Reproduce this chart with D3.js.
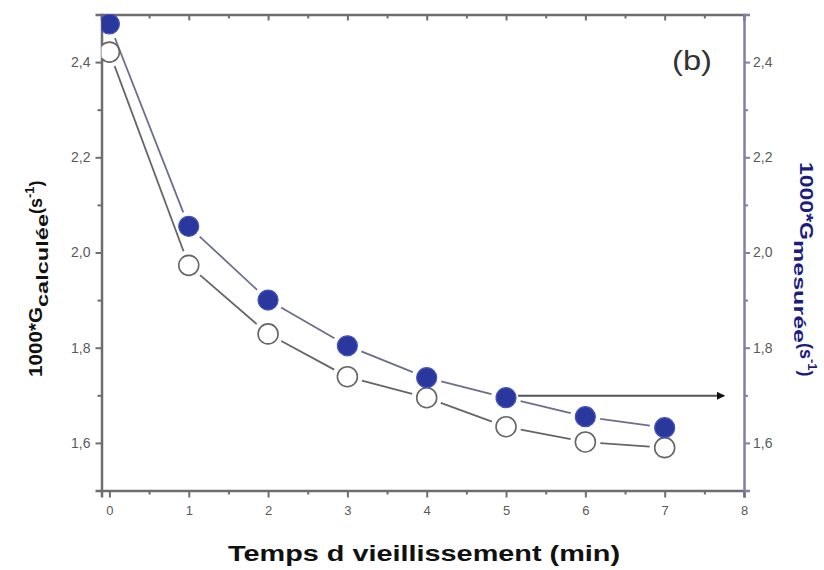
<!DOCTYPE html>
<html><head><meta charset="utf-8">
<script src="https://cdn.jsdelivr.net/npm/d3@7"></script>
<style>body{margin:0;background:#fff}svg{display:block}</style>
</head><body>
<svg id="c" width="824" height="570"></svg>
<script>
const times = [0,1,2,3,4,5,6,7];
const measured = [2.48,2.055,1.90,1.804,1.737,1.695,1.655,1.632];
const calculated = [2.421,1.973,1.829,1.739,1.695,1.634,1.602,1.59];
const xTicks = [0,1,2,3,4,5,6,7,8];
const yTicks = [1.6,1.8,2.0,2.2,2.4];
const arrowFromX = 5.15, arrowToX = 7.75, arrowY = 1.699;

const svg = d3.select('#c');
const x = d3.scaleLinear().domain([-0.1,8]).range([101.5,744]);
const y = d3.scaleLinear().domain([1.5,2.5]).range([490.5,14.5]);
const fmt = d => d3.format('.1f')(d).replace('.',',');
const font = "'Liberation Sans', Arial, sans-serif";

svg.append('defs').append('clipPath').attr('id','clip').append('rect')
  .attr('x',x.range()[0]).attr('y',y.range()[1]).attr('width',x.range()[1]-x.range()[0]).attr('height',y.range()[0]-y.range()[1]);

const grey = '#6e6e6e', blueGrey = '#8080a4';
function styleAxis(g, col){
  g.select('.domain').attr('stroke',col).attr('stroke-width',2.5);
  g.selectAll('.tick line').attr('stroke',col).attr('stroke-width',2);
  g.selectAll('.tick text').attr('fill','#5a5a5a').attr('font-family',font).attr('font-size',14);
}
function minor(g, col){ g.select('.domain').remove(); g.selectAll('line').attr('stroke',col).attr('stroke-width',2); }
const xMinor = d3.range(0.5,8,1);
const yMinor = [1.5,1.7,1.9,2.1,2.3];

// bottom
const gb = svg.append('g').attr('transform',`translate(0,${y.range()[0]})`)
  .call(d3.axisBottom(x).tickValues(xTicks).tickFormat(d3.format('d')).tickSize(7).tickPadding(8));
styleAxis(gb, grey);
gb.selectAll('.tick text').attr('font-size',13);
svg.append('g').attr('transform',`translate(0,${y.range()[0]})`)
  .call(d3.axisBottom(x).tickValues(xMinor).tickFormat('').tickSize(4)).call(g=>minor(g,grey));
// top (inward ticks)
const gt = svg.append('g').attr('transform',`translate(0,${y.range()[1]})`)
  .call(d3.axisBottom(x).tickValues(xTicks).tickFormat('').tickSize(6));
styleAxis(gt, grey);
svg.append('g').attr('transform',`translate(0,${y.range()[1]})`)
  .call(d3.axisBottom(x).tickValues(xMinor).tickFormat('').tickSize(4)).call(g=>minor(g,grey));
// left
const gl = svg.append('g').attr('transform',`translate(${x.range()[0]},0)`)
  .call(d3.axisLeft(y).tickValues(yTicks).tickFormat(fmt).tickSize(6).tickPadding(5));
styleAxis(gl, grey);
svg.append('g').attr('transform',`translate(${x.range()[0]},0)`)
  .call(d3.axisLeft(y).tickValues(yMinor).tickFormat('').tickSize(4)).call(g=>minor(g,grey));
// right
const gr = svg.append('g').attr('transform',`translate(${x.range()[1]},0)`)
  .call(d3.axisRight(y).tickValues(yTicks).tickFormat(fmt).tickSize(6).tickPadding(3));
styleAxis(gr, blueGrey);
svg.append('g').attr('transform',`translate(${x.range()[1]},0)`)
  .call(d3.axisRight(y).tickValues(yMinor).tickFormat('').tickSize(4)).call(g=>minor(g,blueGrey));

// series with gapped connecting lines
const plot = svg.append('g').attr('clip-path','url(#clip)');
function gappedSegments(vals, gap){
  const segs=[];
  for(let i=0;i<vals.length-1;i++){
    const x1=x(times[i]),y1=y(vals[i]),x2=x(times[i+1]),y2=y(vals[i+1]);
    const L=Math.hypot(x2-x1,y2-y1), ux=(x2-x1)/L, uy=(y2-y1)/L;
    segs.push([x1+ux*gap,y1+uy*gap,x2-ux*gap,y2-uy*gap]);
  }
  return segs;
}
const r = 10;
plot.selectAll('line.calc').data(gappedSegments(calculated, r+5)).join('line')
  .attr('x1',d=>d[0]).attr('y1',d=>d[1]).attr('x2',d=>d[2]).attr('y2',d=>d[3])
  .attr('stroke','#666').attr('stroke-width',1.8);
plot.selectAll('line.meas').data(gappedSegments(measured, r+5)).join('line')
  .attr('x1',d=>d[0]).attr('y1',d=>d[1]).attr('x2',d=>d[2]).attr('y2',d=>d[3])
  .attr('stroke','#6c6e8e').attr('stroke-width',1.8);
plot.selectAll('circle.calc').data(calculated).join('circle')
  .attr('cx',(d,i)=>x(times[i])).attr('cy',d=>y(d)).attr('r',r)
  .attr('fill','#fff').attr('stroke','#666').attr('stroke-width',1.6);
plot.selectAll('circle.meas').data(measured).join('circle')
  .attr('cx',(d,i)=>x(times[i])).attr('cy',d=>y(d)).attr('r',r)
  .attr('fill','#2a389e').attr('stroke','#4453bd').attr('stroke-width',1.2);

// arrow
svg.append('defs').append('marker').attr('id','ah').attr('viewBox','0 0 10 10')
  .attr('refX',9).attr('refY',5).attr('markerWidth',5).attr('markerHeight',4).attr('orient','auto')
  .append('path').attr('d','M0,0L10,5L0,10z').attr('fill','#111');
svg.append('line').attr('x1',x(arrowFromX)).attr('x2',x(arrowToX)).attr('y1',y(arrowY)).attr('y2',y(arrowY))
  .attr('stroke','#555').attr('stroke-width',2).attr('marker-end','url(#ah)');

// (b)
svg.append('text').attr('x',672).attr('y',70)
  .attr('font-family',font).attr('font-size',28).attr('fill','#333')
  .attr('textLength',40).attr('lengthAdjust','spacingAndGlyphs').text('(b)');

// x label
svg.append('text').attr('x',228).attr('y',561)
  .attr('font-family',font).attr('font-size',22).attr('font-weight','bold').attr('fill','#111')
  .attr('textLength',392).attr('lengthAdjust','spacingAndGlyphs')
  .text('Temps d vieillissement (min)');

// left y label
const tl = svg.append('text').attr('transform','translate(42,377) rotate(-90)')
  .attr('font-family',font).attr('font-size',18).attr('font-weight','bold').attr('fill','#111');
tl.append('tspan').attr('textLength',70).attr('lengthAdjust','spacingAndGlyphs').text('1000*G');
tl.append('tspan').attr('font-size',17).attr('dy',6).attr('textLength',93).attr('lengthAdjust','spacingAndGlyphs').text('calculée');
tl.append('tspan').attr('dy',-6).text('(s');
tl.append('tspan').attr('font-size',13).attr('dy',-8).text('-1');
tl.append('tspan').attr('dy',8).text(')');

// right y label
const tr = svg.append('text').attr('transform','translate(800,162) rotate(90)')
  .attr('font-family',font).attr('font-size',18).attr('font-weight','bold').attr('fill','#1c1c80');
tr.append('tspan').attr('textLength',78).attr('lengthAdjust','spacingAndGlyphs').text('1000*G');
tr.append('tspan').attr('font-size',17).attr('dy',6).attr('textLength',103).attr('lengthAdjust','spacingAndGlyphs').text('mesurée');
tr.append('tspan').attr('dy',-6).text('(s');
tr.append('tspan').attr('font-size',13).attr('dy',-8).text('-1');
tr.append('tspan').attr('dy',8).text(')');
</script>
</body></html>
